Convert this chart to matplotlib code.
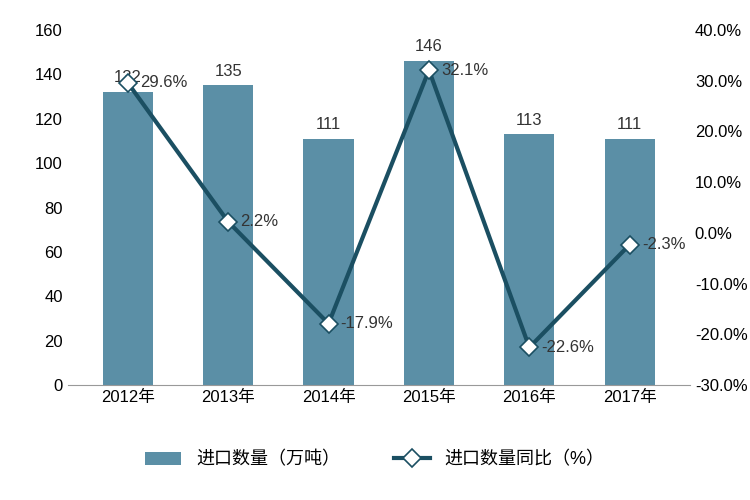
import matplotlib.pyplot as plt
import numpy as np

plt.rcParams['font.family'] = ['Liberation Sans', 'Noto Sans CJK SC', 'DejaVu Sans']

years = ['2012年', '2013年', '2014年', '2015年', '2016年', '2017年']
volume = [132, 135, 111, 146, 113, 111]
yoy = [29.6, 2.2, -17.9, 32.1, -22.6, -2.3]

fig = plt.figure(figsize=(7.5, 5), dpi=100)
ax = fig.add_axes([0.09, 0.23, 0.83, 0.71])
x = np.arange(len(years))
ax.bar(x, volume, width=0.5, color='#5b8fa6', label='进口数量（万吨）', zorder=2)
for xi, v in zip(x, volume):
    ax.text(xi, v + 3, str(v), ha='center', va='bottom', fontsize=12, color='#333333')
ax.set_ylim(0, 160)
ax.set_yticks(range(0, 161, 20))
ax.set_xlim(-0.6, 5.6)
ax.set_xticks(x)
ax.set_xticklabels(years, fontsize=12)
ax.tick_params(axis='y', labelsize=12, length=0)
ax.tick_params(axis='x', length=0)
for s in ['top', 'right', 'left']:
    ax.spines[s].set_visible(False)
ax.spines['bottom'].set_color('#999999')

ax2 = ax.twinx()
ax2.plot(x, yoy, color='#1b4f62', lw=3, marker='D', ms=9, mfc='white',
         mec='#1b4f62', mew=1.2, label='进口数量同比（%）', zorder=3)
for xi, v in zip(x, yoy):
    ax2.text(xi + 0.12, v, f'{v}%', ha='left', va='center', fontsize=12, color='#333333')
ax2.set_ylim(-30, 40)
ax2.set_yticks(range(-30, 41, 10))
ax2.set_yticklabels([f'{t:.1f}%' for t in range(-30, 41, 10)], fontsize=12)
ax2.tick_params(axis='y', length=0)
for s in ['top', 'right', 'left', 'bottom']:
    ax2.spines[s].set_visible(False)

h1, l1 = ax.get_legend_handles_labels()
h2, l2 = ax2.get_legend_handles_labels()
fig.legend(h1 + h2, l1 + l2, loc='lower center', bbox_to_anchor=(0.5, 0.03),
           ncol=2, frameon=False, fontsize=13, columnspacing=3)

fig.savefig('out.png')
